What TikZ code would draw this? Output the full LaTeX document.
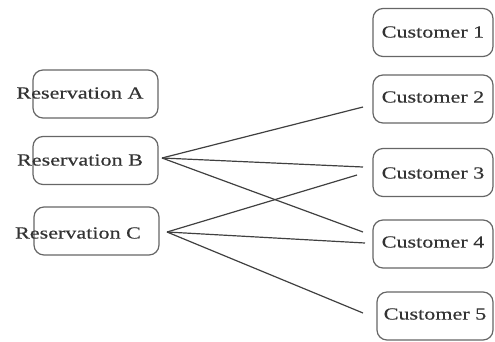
\documentclass[tikz,border=0pt]{standalone}
\usepackage{fontspec}
\setmainfont{Liberation Serif}[FakeStretch=1.3,FakeBold=0.4]
\begin{document}
\begin{tikzpicture}[x=1pt,y=-1pt,
  box/.style={draw=black!60, line width=1.2pt, rounded corners=10pt,
    inner sep=0pt, minimum width=125pt, minimum height=48pt},
  cbox/.style={box, minimum width=120pt},
  lbl/.style={inner sep=0pt, text=black!80, font=\fontsize{17}{20}\selectfont},
  link/.style={draw=black!75, line width=1.2pt}]
\useasboundingbox (0,0) rectangle (495,341);

% reservations (boxes and their labels)
\node[box] (resA) at (95.5,94) {};
\node[box] (resB) at (95.5,160.5) {};
\node[box] (resC) at (96.5,231) {};
\node[lbl] (resAt) at (80,93) {Reservation A};
\node[lbl] (resBt) at (80,160) {Reservation B};
\node[lbl] (resCt) at (78,233) {Reservation C};

% customers
\node[cbox] (cust1) at (433,32.5) {};
\node[cbox] (cust2) at (433,99) {};
\node[cbox] (cust3) at (433,172.5) {};
\node[cbox] (cust4) at (433,244) {};
\node[cbox, minimum width=116pt] (cust5) at (435,316) {};
\node[lbl] (cust1t) at (433,32) {Customer 1};
\node[lbl] (cust2t) at (433,97) {Customer 2};
\node[lbl] (cust3t) at (433,173) {Customer 3};
\node[lbl] (cust4t) at (433,242) {Customer 4};
\node[lbl] (cust5t) at (435,314) {Customer 5};

% line ends next to the boxes
\coordinate (bOut) at (162,158);
\coordinate (cOut) at (167,232);
\coordinate (in2) at (363,107);
\coordinate (in3b) at (363,167);
\coordinate (in3c) at (357,175);
\coordinate (in4b) at (363,232);
\coordinate (in4c) at (365,243);
\coordinate (in5) at (363,313);

% assignments
\draw[link] (bOut) -- (in2);
\draw[link] (bOut) -- (in3b);
\draw[link] (bOut) -- (in4b);
\draw[link] (cOut) -- (in3c);
\draw[link] (cOut) -- (in4c);
\draw[link] (cOut) -- (in5);
\end{tikzpicture}
\end{document}
